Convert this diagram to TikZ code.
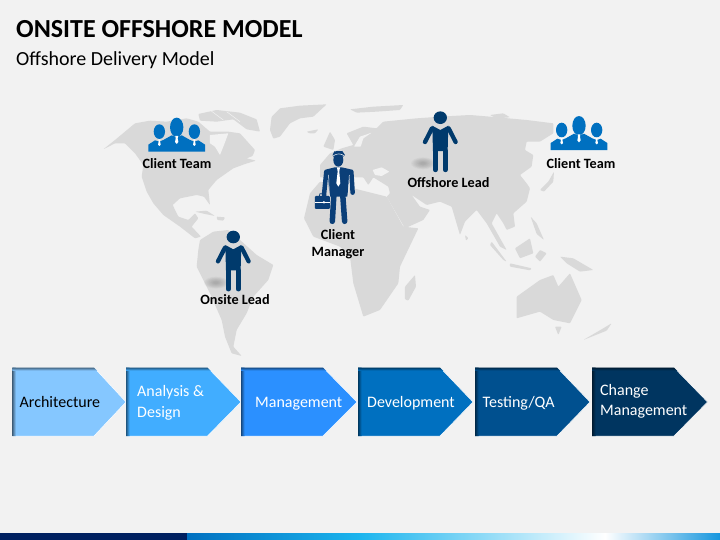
\documentclass[tikz,border=0pt]{standalone}
\usepackage{fontspec}
\setmainfont{Carlito}
\definecolor{bgc}{HTML}{F2F2F2}
\definecolor{mapc}{HTML}{D9D9D9}
\definecolor{navy}{HTML}{003A6C}
\definecolor{suit}{HTML}{0B3F78}
\definecolor{teamc}{HTML}{0070C0}
\definecolor{chA}{HTML}{85C7FF}
\definecolor{chB}{HTML}{41ADFF}
\definecolor{chC}{HTML}{2B90FF}
\definecolor{chD}{HTML}{0070C0}
\definecolor{chE}{HTML}{00508F}
\definecolor{chF}{HTML}{003560}
\definecolor{barA}{HTML}{002060}
\definecolor{barB}{HTML}{0070C0}
\definecolor{barC}{HTML}{1CB5EE}
\definecolor{barD}{HTML}{FFFFFF}
\definecolor{barE}{HTML}{1596DE}
\tikzset{
  land/.style={fill=mapc,draw=none,rounded corners=0.8pt},
  sea/.style={fill=bgc,draw=none,rounded corners=0.5pt},
  lab/.style={font=\bfseries\fontsize{14.2}{17}\selectfont,text=black,align=center,inner sep=0pt},
  chevtext/.style={font=\fontsize{16}{20.5}\selectfont,align=left,anchor=west,inner sep=0pt},
  chevone/.style={font=\fontsize{16}{20.5}\selectfont,anchor=base west,inner sep=0pt},
  zoomA/.style={shift={(100pt,-90pt)},x=0.3333pt,y=-0.3333pt},
  zoomB/.style={shift={(340pt,-90pt)},x=0.3333pt,y=-0.3333pt},
}
\newcommand{\personfig}[3]{%
  \begin{scope}[shift={(#1pt,#2pt)},x=0.3333pt,y=-0.3333pt]
    \foreach \rr in {1,0.9,0.8,0.7,0.6,0.5,0.4,0.3,0.2}
      \fill[black!60,opacity=.05] (-52,137) ellipse ({36*\rr} and {18*\rr});
    \fill[#3] (0,0) ellipse (20 and 19);
    \fill[#3] (-24,24) -- (0,37) -- (24,24) -- (22,100) -- (-22,100) -- cycle;
    \draw[#3,line width=5pt,line cap=round] (-15,100) -- (-15,156) (15,100) -- (15,156);
    \draw[#3,line width=4.3pt,line cap=round] (-25,32) -- (-46,73) (25,32) -- (46,73);
  \end{scope}}
\newcommand{\teamfig}[2]{%
  \begin{scope}[shift={(#1pt,#2pt)},x=0.3333pt,y=-0.3333pt]
    \fill[teamc] (-52,13) ellipse (17 and 22) (53,13) ellipse (17 and 22) (0,0) ellipse (20 and 29);
    \fill[teamc] (-85,73) -- (-85,52) -- (-65,39) -- (-52,43) -- (-40,38) -- (-15,24) -- (0,30) -- (15,24) -- (40,38) -- (53,43) -- (65,39) -- (85,52) -- (85,73) -- cycle;
    \fill[white] (-55,36) -- (-49,36) -- (-50,42) -- (-48,52) -- (-52,56) -- (-56,52) -- (-54,42) -- cycle;
    \fill[white] (50,36) -- (56,36) -- (55,42) -- (57,52) -- (53,56) -- (49,52) -- (51,42) -- cycle;
    \fill[white] (-4,26) -- (4,26) -- (3,34) -- (5,44) -- (0,50) -- (-5,44) -- (-3,34) -- cycle;
  \end{scope}}
\newcommand{\chev}[4]{%
  \path[fill=#4,draw=white,line width=.5pt] (#1pt,-367.5pt) -- (#2pt,-367.5pt) -- (#3pt,-402pt) -- (#2pt,-436pt) -- (#1pt,-436pt) -- cycle;
  \begin{scope}
    \clip (#1pt,-367.5pt) -- (#2pt,-367.5pt) -- (#3pt,-402pt) -- (#2pt,-436pt) -- (#1pt,-436pt) -- cycle;
    \shade[left color=#4!50!black,right color=#4] (#1pt,-367.5pt) rectangle ++(3.5pt,-68.5pt);
    \shade[top color=#4!50!black,bottom color=#4] (#1pt,-367.5pt) rectangle (#3pt,-370.5pt);
  \end{scope}}
\begin{document}
\begin{tikzpicture}[x=1pt,y=1pt]
\useasboundingbox (0,0) rectangle (720pt,-540pt);
\fill[bgc] (0,0) rectangle (720pt,-540pt);
% bottom band
\fill[barA] (0,-533pt) rectangle (187pt,-540pt);
\shade[left color=barB,right color=barC] (187pt,-533pt) rectangle (360pt,-540pt);
\shade[left color=barC,right color=barD] (360pt,-533pt) rectangle (605pt,-540pt);
\shade[left color=barD,right color=barE] (605pt,-533pt) rectangle (720pt,-540pt);
% titles
\node[anchor=base west,inner sep=0pt,font=\bfseries\fontsize{26}{30}\selectfont,text=black] (title) at (16pt,-37.5pt) {ONSITE OFFSHORE MODEL};
\node[anchor=base west,inner sep=0pt,font=\fontsize{20}{24}\selectfont,text=black] (subtitle) at (16pt,-66pt) {Offshore Delivery Model};
% map, west half
\begin{scope}[zoomA]
  % North America
  \fill[land] (10,178) -- (45,150) -- (75,125) -- (105,100) -- (150,92) -- (200,95) -- (260,85) -- (295,95) -- (330,125) -- (385,125) -- (420,130) -- (465,180) -- (458,198) -- (440,205) -- (468,212) -- (435,222) -- (400,235) -- (350,270) -- (325,300) -- (330,345) -- (312,320) -- (290,315) -- (240,325) -- (218,345) -- (235,380) -- (265,390) -- (285,370) -- (295,385) -- (275,410) -- (303,440) -- (285,445) -- (240,410) -- (190,375) -- (160,340) -- (140,305) -- (125,260) -- (130,225) -- (105,190) -- (75,160) -- (45,160) -- cycle;
  % Hudson Bay
  \fill[sea] (330,135) -- (385,130) -- (372,165) -- (360,195) -- (345,170) -- (330,160) -- cycle;
  % Arctic islands
  \fill[land] (295,72) -- (350,60) -- (420,68) -- (470,88) -- (480,125) -- (440,118) -- (400,88) -- (350,95) -- (300,92) -- cycle;
  \draw[bgc,line width=.5pt] (330,60) -- (370,90) (380,65) -- (420,95);
  % Greenland
  \fill[land] (510,120) -- (515,80) -- (540,55) -- (600,47) -- (640,45) -- (680,43) -- (640,80) -- (600,85) -- (570,100) -- (540,140) -- (520,146) -- cycle;
  \fill[land] (620,125) -- (655,118) -- (645,130) -- (628,130) -- cycle;
  % Cuba, Hispaniola
  \fill[land] (285,365) -- (320,362) -- (345,378) -- (315,372) -- cycle;
  \fill[land] (350,380) -- (375,382) -- (370,392) -- (352,390) -- cycle;
  % South America
  \fill[land] (300,450) -- (340,425) -- (385,420) -- (420,450) -- (470,495) -- (520,525) -- (505,570) -- (460,620) -- (440,670) -- (410,720) -- (400,770) -- (425,798) -- (395,790) -- (375,740) -- (365,690) -- (330,610) -- (290,530) -- (295,480) -- cycle;
\end{scope}
% map, east half
\begin{scope}[zoomB]
  % Africa
  \fill[land] (-108,385) -- (-80,440) -- (0,470) -- (30,500) -- (40,580) -- (70,680) -- (120,660) -- (175,580) -- (180,530) -- (235,415) -- (190,410) -- (140,320) -- (60,300) -- (0,285) -- (-60,275) -- (-90,310) -- cycle;
  % Eurasia
  \fill[land] (-60,262) -- (-60,225) -- (-30,190) -- (5,175) -- (40,165) -- (20,130) -- (70,110) -- (110,115) -- (130,95) -- (230,85) -- (300,80) -- (390,75) -- (450,80) -- (560,90) -- (640,100) -- (640,130) -- (600,155) -- (560,155) -- (555,180) -- (580,195) -- (575,230) -- (540,255) -- (560,280) -- (570,295) -- (560,335) -- (520,370) -- (525,410) -- (500,420) -- (490,400) -- (470,370) -- (455,400) -- (500,480) -- (480,470) -- (440,400) -- (410,360) -- (375,395) -- (360,435) -- (335,350) -- (300,335) -- (260,345) -- (215,315) -- (240,350) -- (270,360) -- (250,390) -- (195,415) -- (140,320) -- (150,310) -- (145,290) -- (100,262) -- (85,285) -- (70,262) -- (40,262) -- (0,262) -- cycle;
  % Baltic and Black Sea
  \fill[sea] (42,170) -- (60,140) -- (95,128) -- (70,145) -- (62,170) -- cycle;
  \fill[sea] (98,240) -- (125,232) -- (148,245) -- (125,258) -- (105,255) -- cycle;
  % British Isles, Arctic
  \fill[land] (-50,170) -- (-30,125) -- (-15,150) -- (-20,180) -- cycle;
  \fill[land] (30,58) -- (100,50) -- (190,45) -- (180,60) -- (110,65) -- (50,68) -- cycle;
  \fill[land] (450,75) -- (490,70) -- (510,82) -- (470,85) -- cycle;
  % Japan
  \fill[land] (600,300) -- (625,275) -- (642,245) -- (640,275) -- (612,305) -- cycle;
  % Philippines
  \fill[land] (572,380) -- (590,400) -- (612,450) -- (590,432) -- cycle;
  % Sri Lanka
  \fill[land] (375,435) -- (385,445) -- (378,452) -- cycle;
  % Madagascar
  \fill[land] (195,628) -- (195,590) -- (225,555) -- (228,590) -- (205,632) -- cycle;
  % Indonesia
  \fill[land] (455,455) -- (500,515) -- (490,510) -- (450,465) -- cycle;
  \fill[land] (510,520) -- (575,535) -- (570,541) -- (510,530) -- cycle;
  \fill[land] (525,475) -- (570,445) -- (580,490) -- (540,505) -- cycle;
  \fill[land] (585,500) -- (600,480) -- (620,490) -- (600,515) -- cycle;
  \fill[land] (660,500) -- (700,505) -- (760,540) -- (720,545) -- (680,520) -- cycle;
  % Australia, Tasmania, New Zealand
  \fill[land] (530,620) -- (600,570) -- (640,555) -- (655,590) -- (690,550) -- (725,630) -- (690,700) -- (640,690) -- (600,665) -- (530,685) -- cycle;
  \fill[land] (645,710) -- (665,710) -- (655,735) -- cycle;
  \fill[land] (730,750) -- (790,715) -- (815,700) -- (800,722) -- cycle;
\end{scope}
% people
\teamfig{176.7}{-127.3}
\teamfig{579}{-125.7}
\personfig{233.3}{-237}{navy}
\personfig{440.3}{-117.7}{navy}
% client manager
\begin{scope}[zoomA]
  \fill[suit] (715,210) ellipse (15 and 20);
  \fill[suit] (698,195) -- (703,184) -- (727,183) -- (735,195) -- (730,200) -- (700,200) -- cycle;
  \draw[white,line width=.5pt] (700,197) .. controls (712,190) and (722,190) .. (732,197);
  \fill[suit] (680,238) -- (705,232) -- (725,232) -- (752,238) -- (742,320) -- (690,320) -- cycle;
  \draw[suit,line width=4.5pt,line cap=round] (679,245) -- (672,315) (754,245) -- (758,308);
  \draw[suit,line width=5.5pt,line cap=round] (702,310) -- (697,394) (728,310) -- (734,394);
  \fill[white] (711,232) -- (720,232) -- (718,245) -- (721,280) -- (715,290) -- (709,280) -- (713,245) -- cycle;
  \draw[bgc,line width=.5pt] (686,255) -- (688,320) (748,255) -- (744,320);
  \fill[suit,rounded corners=1pt] (645,318) rectangle (690,357);
  \draw[suit,line width=.8pt] (658,318) -- (660,311) -- (676,311) -- (678,318);
  \draw[white,line width=.5pt] (645,337) -- (690,337);
  \fill[white] (672,337) circle (4);
\end{scope}
% labels
\node[lab] (teamw) at (177pt,-163.5pt) {Client Team};
\node[lab] (teame) at (581pt,-163.5pt) {Client Team};
\node[lab] (mgr) at (338pt,-244.5pt) {Client\\Manager};
\node[lab] (off) at (448.5pt,-182.5pt) {Offshore Lead};
\node[lab] (ons) at (235pt,-299.5pt) {Onsite Lead};
% chevrons
\chev{12.3}{94}{126}{chA}
\chev{126}{207.5}{241}{chB}
\chev{241}{323}{357}{chC}
\chev{358}{440}{473}{chD}
\chev{475}{557}{590}{chE}
\chev{592}{674}{707.5}{chF}
\node[chevone,text=black] (c1) at (19.5pt,-407.3pt) {Architecture};
\node[chevtext,text=white] (c2) at (137pt,-403pt) {Analysis \&\\Design};
\node[chevone,text=white] (c3) at (255pt,-407.3pt) {Management};
\node[chevone,text=white] (c4) at (367pt,-407.3pt) {Development};
\node[chevone,text=white] (c5) at (482.5pt,-407.3pt) {Testing/QA};
\node[chevtext,text=white] (c6) at (600pt,-401.5pt) {Change\\Management};
\end{tikzpicture}
\end{document}
